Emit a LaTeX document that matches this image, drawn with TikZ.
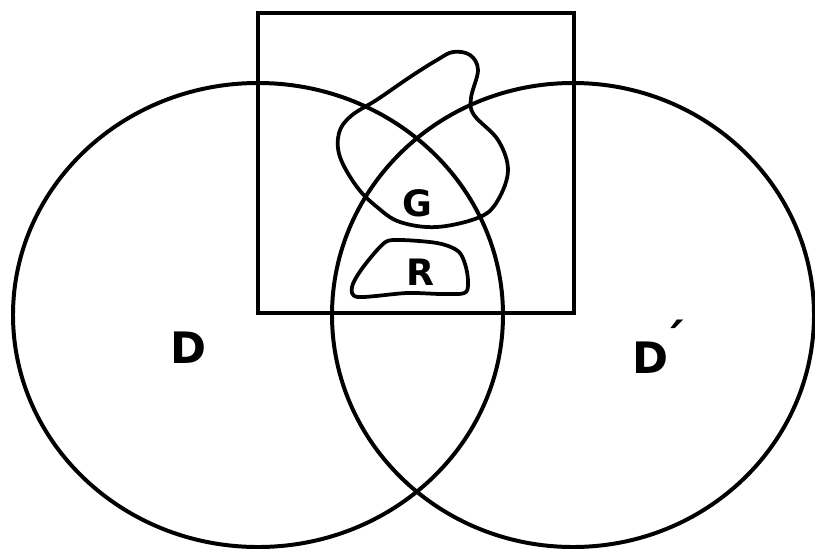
\documentclass[tikz,border=0pt]{standalone}
\usepackage{fontspec}
\setmainfont{DejaVu Sans}
\usepackage{tikz}
\usetikzlibrary{positioning}

\begin{document}
\begin{tikzpicture}[
  x=0.03cm, y=-0.03cm,
  outline/.style={draw=black, line width=3.4pt},
  region/.style={draw=black, line width=3.2pt, line join=round},
  letter/.style={font=\bfseries\fontsize{31}{31}\selectfont, inner sep=0pt},
  bigletter/.style={font=\bfseries\fontsize{37}{37}\selectfont, inner sep=0pt},
]
\useasboundingbox (0,0) rectangle (815,548);

%% ── Square window ──────────────────────────────────────────────────────────
\draw[outline] (258,13) rectangle (574,313);

%% ── The two discs D and D' ─────────────────────────────────────────────────
\draw[outline] (258,315) ellipse [x radius=245, y radius=232];
\draw[outline] (573,315) ellipse [x radius=241, y radius=232];

%% ── Region G ───────────────────────────────────────────────────────────────
\draw[region] plot[smooth cycle, tension=0.6] coordinates {
  (453,52) (470,55) (478,70) (471,98) (474,115) (498,140) (508,170)
  (498,200) (480,217) (437,227) (400,222) (377,207) (357,187)
  (340,157) (339,133) (351,116) (378,99) (410,77) (437,60)};

%% ── Region R ───────────────────────────────────────────────────────────────
\draw[region] plot[smooth cycle, tension=0.5] coordinates {
  (393,240) (437,243) (459,252) (467,272) (466,292) (443,294)
  (407,293) (358,297) (352,287) (361,270) (380,247)};

%% ── Labels ─────────────────────────────────────────────────────────────────
\node[letter] (G) at (417,203) {G};
\node[letter] (R) at (420,272) {R};
\node[bigletter] (D) at (188,348) {D};
\node[bigletter] (Dp) at (650,347) {D\rlap{\kern-0.12em\raisebox{0.36em}{\fontsize{40}{40}\selectfont\char"00B4}}};

\end{tikzpicture}
\end{document}
